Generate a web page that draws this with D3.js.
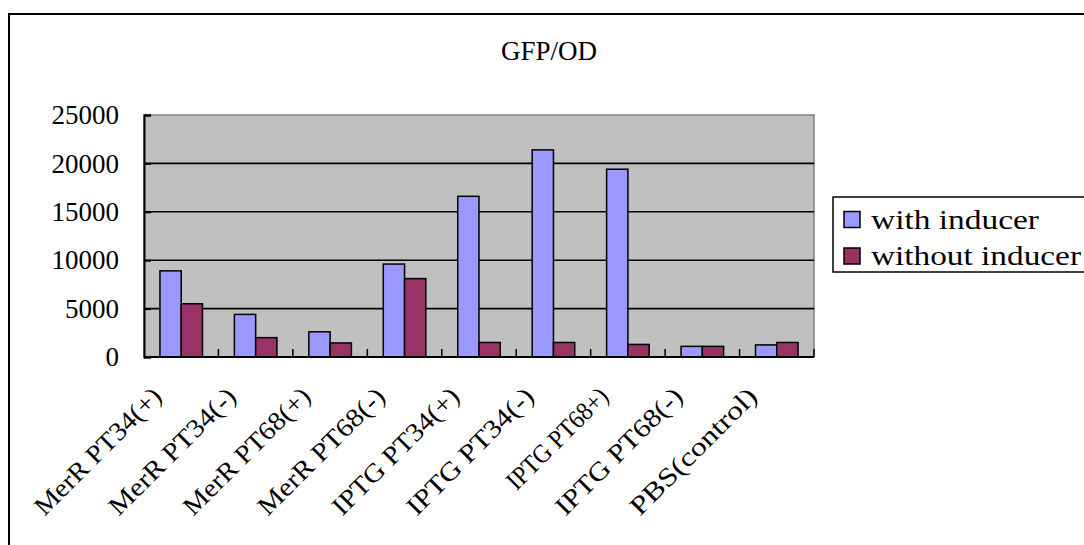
<!DOCTYPE html>
<html>
<head>
<meta charset="utf-8">
<script src="https://cdn.jsdelivr.net/npm/d3@7"></script>
<style>
  html, body { margin: 0; padding: 0; background: #fff; }
  svg { display: block; }
  text { font-family: "Liberation Serif", "DejaVu Serif", serif; fill: #000; }
</style>
</head>
<body>
<svg id="chart" width="1084" height="545"></svg>
<script>
const categories = ["MerR PT34(+)", "MerR PT34(-)", "MerR PT68(+)", "MerR PT68(-)",
  "IPTG PT34(+)", "IPTG PT34(-)", "IPTG PT68+)", "IPTG PT68(-)", "PBS(control)"];
const seriesNames = ["with inducer", "without inducer"];
const withInducer = [8900, 4400, 2600, 9600, 16600, 21400, 19400, 1100, 1250];
const withoutInducer = [5500, 2000, 1450, 8100, 1500, 1500, 1300, 1100, 1500];
const yTicks = [0, 5000, 10000, 15000, 20000, 25000];
const title = "GFP/OD";

const colors = ["#9999FF", "#993366"];
const svg = d3.select("#chart");

// outer chart border
svg.append("rect").attr("x", 9).attr("y", 14).attr("width", 1100).attr("height", 560)
  .attr("fill", "#fff").attr("stroke", "#000").attr("stroke-width", 2);

const plot = { left: 144, right: 814, top: 115, bottom: 357 };
const x = d3.scaleBand().domain(categories).range([plot.left, plot.right]).padding(0);
const y = d3.scaleLinear().domain([0, 25000]).range([plot.bottom, plot.top]);

// plot background
svg.append("rect").attr("x", plot.left).attr("y", plot.top)
  .attr("width", plot.right - plot.left).attr("height", plot.bottom - plot.top)
  .attr("fill", "#C0C0C0").attr("stroke", "#808080").attr("stroke-width", 1.5);

// gridlines
svg.append("g").selectAll("line").data(yTicks.filter(d => d > 0 && d < 25000)).join("line")
  .attr("x1", plot.left).attr("x2", plot.right)
  .attr("y1", d => y(d)).attr("y2", d => y(d))
  .attr("stroke", "#000").attr("stroke-width", 1.6);

// bars
const bw = x.bandwidth() / 3.5;
const data = categories.map((c, i) => ({ c, vals: [withInducer[i], withoutInducer[i]] }));
const groups = svg.append("g").selectAll("g").data(data).join("g");
groups.selectAll("rect").data(d => d.vals.map((v, k) => ({ c: d.c, v, k }))).join("rect")
  .attr("x", d => x(d.c) + x.bandwidth() / 2 + (d.k - 1) * bw)
  .attr("y", d => y(d.v))
  .attr("width", bw)
  .attr("height", d => y(0) - y(d.v))
  .attr("fill", d => colors[d.k])
  .attr("stroke", "#000").attr("stroke-width", 1.5);

// y axis
const yAxis = d3.axisLeft(y).tickValues(yTicks).tickSize(-7).tickPadding(25).tickFormat(d3.format("d"));
const yg = svg.append("g").attr("transform", `translate(${plot.left},0)`).call(yAxis);
yg.select(".domain").attr("stroke", "#000").attr("stroke-width", 2);
yg.selectAll(".tick line").attr("stroke", "#000").attr("stroke-width", 2);
yg.selectAll(".tick text").attr("font-size", 27).attr("font-family", "Liberation Serif");

// x axis baseline and ticks between categories
svg.append("line").attr("x1", plot.left).attr("x2", plot.right)
  .attr("y1", plot.bottom).attr("y2", plot.bottom).attr("stroke", "#000").attr("stroke-width", 2);
const boundaries = categories.slice(1).map(c => x(c)).concat([plot.right]);
svg.append("g").selectAll("line").data(boundaries).join("line")
  .attr("x1", d => d).attr("x2", d => d)
  .attr("y1", plot.bottom).attr("y2", plot.bottom - 8)
  .attr("stroke", "#000").attr("stroke-width", 1.5);

// category labels (monospaced-like widths: parentheses are full width)
function labelLen(s) {
  let n = 0;
  for (const ch of s) n += (ch === "(" || (ch === ")" && s.includes("("))) ? 24 : 12;
  return n;
}
svg.append("g").selectAll("text").data(categories).join("text")
  .attr("transform", d => `translate(${x(d) + x.bandwidth() / 2 - 18},398) rotate(-45)`)
  .attr("text-anchor", "end")
  .attr("font-size", 26)
  .attr("textLength", d => labelLen(d))
  .attr("lengthAdjust", "spacingAndGlyphs")
  .text(d => d);

// title
svg.append("text").attr("x", 549).attr("y", 60).attr("text-anchor", "middle")
  .attr("font-size", 27).text(title);

// legend
const lg = svg.append("g");
lg.append("rect").attr("x", 833).attr("y", 197).attr("width", 300).attr("height", 75)
  .attr("fill", "#fff").attr("stroke", "#000").attr("stroke-width", 1.5);
seriesNames.forEach((name, i) => {
  const cy = 219.5 + i * 36.5;
  lg.append("rect").attr("x", 844).attr("y", cy - 8).attr("width", 16).attr("height", 16)
    .attr("fill", colors[i]).attr("stroke", "#000").attr("stroke-width", 1.5);
  lg.append("text").attr("x", 871).attr("y", cy + 9).attr("font-size", 27)
    .attr("textLength", name.length * 14).attr("lengthAdjust", "spacingAndGlyphs")
    .text(name);
});
</script>
</body>
</html>
